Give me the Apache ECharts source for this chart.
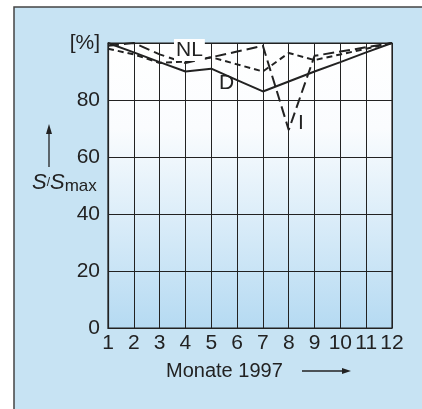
<!DOCTYPE html>
<html>
<head>
<meta charset="utf-8">
<script src="https://cdn.jsdelivr.net/npm/echarts@6/dist/echarts.min.js"></script>
<style>
  html, body { margin: 0; padding: 0; background: #fff; }
  #chart { width: 422px; height: 409px; }
</style>
</head>
<body>
<div id="chart"></div>
<script>
// Monate 1997
var months = ['1','2','3','4','5','6','7','8','9','10','11','12'];
// S/Smax in %
var dValues  = [100, 96.7, 93.3, 90, 91, 87, 83, 86.5, 90, 93.3, 96.7, 100];
var nlValues = [98, 96, 93, 93.5, 95, 92.5, 90, 96.5, 94, 96, 98, 100];
var iValues  = [99, 100, 96, 93, 95, 97, 99, 69.5, 95.5, 97, 98.5, 100];
var yTicks = [0, 20, 40, 60, 80, 100];

var chart = echarts.init(document.getElementById('chart'));
var txt = '#222';
var font = 'Liberation Sans';

var option = {
    animation: false,
    backgroundColor: '#fff',
    graphic: [
        { type: 'rect', z: -10, shape: { x: 14, y: 7, width: 500, height: 500 },
          style: { fill: '#c7e3f3', stroke: '#444', lineWidth: 1.5 } },
        // y axis name with arrow
        { type: 'line', shape: { x1: 49, y1: 167, x2: 49, y2: 131 }, style: { stroke: txt, lineWidth: 1.3 } },
        { type: 'polygon', shape: { points: [[49, 124], [46, 134], [52, 134]] }, style: { fill: txt } },
        { type: 'text', left: 32, top: 172, style: {
            text: '{i|S}/{i|S}{s|max}', fill: txt,
            rich: {
                i: { fontFamily: font, fontSize: 22, fontStyle: 'italic', fill: txt },
                s: { fontFamily: font, fontSize: 17, fill: txt, padding: [7, 0, 0, 0] }
            }
        } },
        // x axis name with arrow
        { type: 'text', left: 166, top: 361, style: { text: 'Monate 1997', fontFamily: font, fontSize: 20, fill: txt } },
        { type: 'line', shape: { x1: 302, y1: 371, x2: 345, y2: 371 }, style: { stroke: txt, lineWidth: 1.3 } },
        { type: 'polygon', shape: { points: [[351, 371], [342, 368], [342, 374]] }, style: { fill: txt } },
        // line labels
        { type: 'text', left: 174, top: 39, z: 50, style: { text: 'NL', fontFamily: font, fontSize: 21, fill: txt,
            backgroundColor: '#fff', padding: [1, 2, 0, 2] } },
        { type: 'text', left: 219, top: 73, z: 50, style: { text: 'D', fontFamily: font, fontSize: 21, fill: txt } },
        { type: 'text', left: 298, top: 113, z: 50, style: { text: 'I', fontFamily: font, fontSize: 21, fill: txt } }
    ],
    grid: {
        left: 108, right: 30, top: 43, bottom: 81,
        show: true,
        borderColor: '#222', borderWidth: 1.2,
        backgroundColor: new echarts.graphic.LinearGradient(0, 0, 0, 1, [
            { offset: 0, color: '#ffffff' },
            { offset: 0.3, color: '#fafcfe' },
            { offset: 1, color: '#b5daf2' }
        ])
    },
    xAxis: {
        type: 'category',
        data: months,
        boundaryGap: false,
        axisLine: { lineStyle: { color: '#222', width: 1.2 } },
        axisTick: { show: false },
        axisLabel: { color: txt, fontFamily: font, fontSize: 21, margin: 5, interval: 0 },
        splitLine: { show: true, interval: 0, lineStyle: { color: '#222', width: 1 } }
    },
    yAxis: {
        type: 'value',
        min: 0, max: 100, interval: 20,
        axisLine: { show: true, lineStyle: { color: '#222', width: 1.2 } },
        axisTick: { show: false },
        axisLabel: {
            color: txt, fontFamily: font, fontSize: 21, margin: 8,
            formatter: function (v) { return v === yTicks[yTicks.length - 1] ? '[%]' : String(v); }
        },
        splitLine: { show: true, lineStyle: { color: '#222', width: 1 } }
    },
    series: [
        { name: 'D', type: 'line', data: dValues, symbol: 'none',
          lineStyle: { color: '#222', width: 2 } },
        { name: 'NL', type: 'line', data: nlValues, symbol: 'none',
          lineStyle: { color: '#222', width: 2, type: [6, 4] } },
        { name: 'I', type: 'line', data: iValues, symbol: 'none',
          lineStyle: { color: '#222', width: 2, type: [11, 5] } }
    ]
};

chart.setOption(option);
</script>
</body>
</html>
